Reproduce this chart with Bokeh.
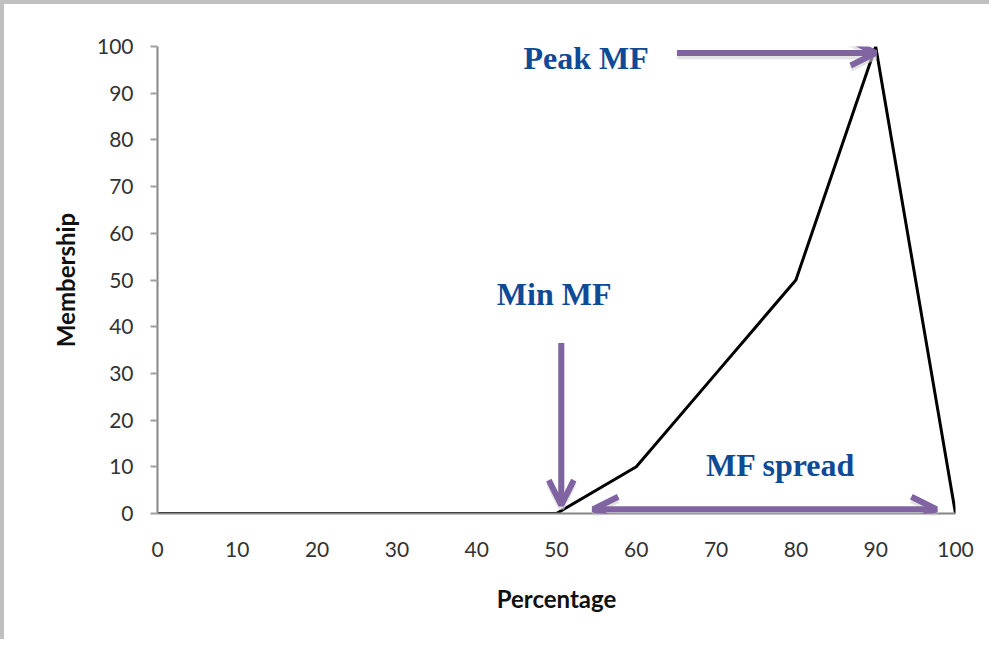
from bokeh.plotting import figure
from bokeh.models import Range1d, Arrow, OpenHead, Label, FixedTicker
from bokeh.embed import file_html
from bokeh.resources import INLINE

# data
percentage = [0, 50, 60, 70, 80, 90, 100]
membership = [0, 0, 10, 30, 50, 100, 0]
x_ticks = [0, 10, 20, 30, 40, 50, 60, 70, 80, 90, 100]
y_ticks = [0, 10, 20, 30, 40, 50, 60, 70, 80, 90, 100]

ann_texts = ["Peak MF", "Min MF", "MF spread"]
ann_x = [53.7, 49.7, 78.1]
ann_y = [97.6, 47.0, 10.3]

peak_arrow = (65.1, 98.6, 90.0, 98.6)
min_arrow = (50.6, 36.5, 50.6, 1.8)
spread_arrow = (54.6, 0.9, 97.6, 0.9)

p = figure(width=989, height=639, output_backend="svg", toolbar_location=None,
           x_range=Range1d(0, 100), y_range=Range1d(0, 100),
           min_border_left=153, min_border_right=38,
           min_border_top=42, min_border_bottom=130)
p.styles = {"border-top": "4px solid #c0c0c0", "border-left": "4px solid #c0c0c0"}
p.outline_line_color = None
p.xgrid.visible = False
p.ygrid.visible = False
p.background_fill_color = "white"
p.border_fill_color = "white"

tick_font = "Lato"
p.xaxis.ticker = FixedTicker(ticks=x_ticks)
p.yaxis.ticker = FixedTicker(ticks=y_ticks)
for ax in (p.xaxis[0], p.yaxis[0]):
    ax.axis_line_color = "#868686"
    ax.axis_line_width = 2
    ax.major_tick_line_color = "#a0a0a0"
    ax.major_tick_line_width = 2
    ax.minor_tick_line_color = None
    ax.major_label_text_font = tick_font
    ax.major_label_text_font_size = "21px"
    ax.major_label_text_color = "#333333"
    ax.axis_label_text_font = tick_font
    ax.axis_label_text_font_size = "24px"
    ax.axis_label_text_font_style = "bold"
    ax.axis_label_text_color = "#111111"

p.xaxis.major_tick_out = 0
p.xaxis.major_tick_in = 0
p.xaxis.major_label_standoff = 28
p.xaxis.axis_label = "Percentage"
p.xaxis.axis_label_standoff = 24

p.yaxis.major_tick_out = 7
p.yaxis.major_tick_in = 0
p.yaxis.major_label_standoff = 17
p.yaxis.axis_label = "Membership"
p.yaxis.axis_label_standoff = 14

p.line(percentage, membership, line_color="black", line_width=3)

purple = "#8064A2"
shadow = "#d0d0d0"

def head(color, alpha=1.0):
    return OpenHead(size=25, line_color=color, line_width=6, line_alpha=alpha)

def add_arrow(coords, start=False):
    x0, y0, x1, y1 = coords
    p.add_layout(Arrow(x_start=x0, y_start=y0 - 0.7, x_end=x1, y_end=y1 - 0.7,
                       line_color=shadow, line_width=6, line_alpha=0.6,
                       end=head(shadow, 0.6), start=head(shadow, 0.6) if start else None))
    p.add_layout(Arrow(x_start=x0, y_start=y0, x_end=x1, y_end=y1,
                       line_color=purple, line_width=6,
                       end=head(purple), start=head(purple) if start else None))

add_arrow(peak_arrow)
add_arrow(min_arrow)
add_arrow(spread_arrow, start=True)

for t, x, y in zip(ann_texts, ann_x, ann_y):
    p.add_layout(Label(x=x, y=y, text=t, text_align="center", text_baseline="middle",
                       text_font="Liberation Serif", text_font_style="bold",
                       text_font_size="32px", text_color="#0F4A96"))

open("out.html", "w").write(file_html(p, INLINE))
